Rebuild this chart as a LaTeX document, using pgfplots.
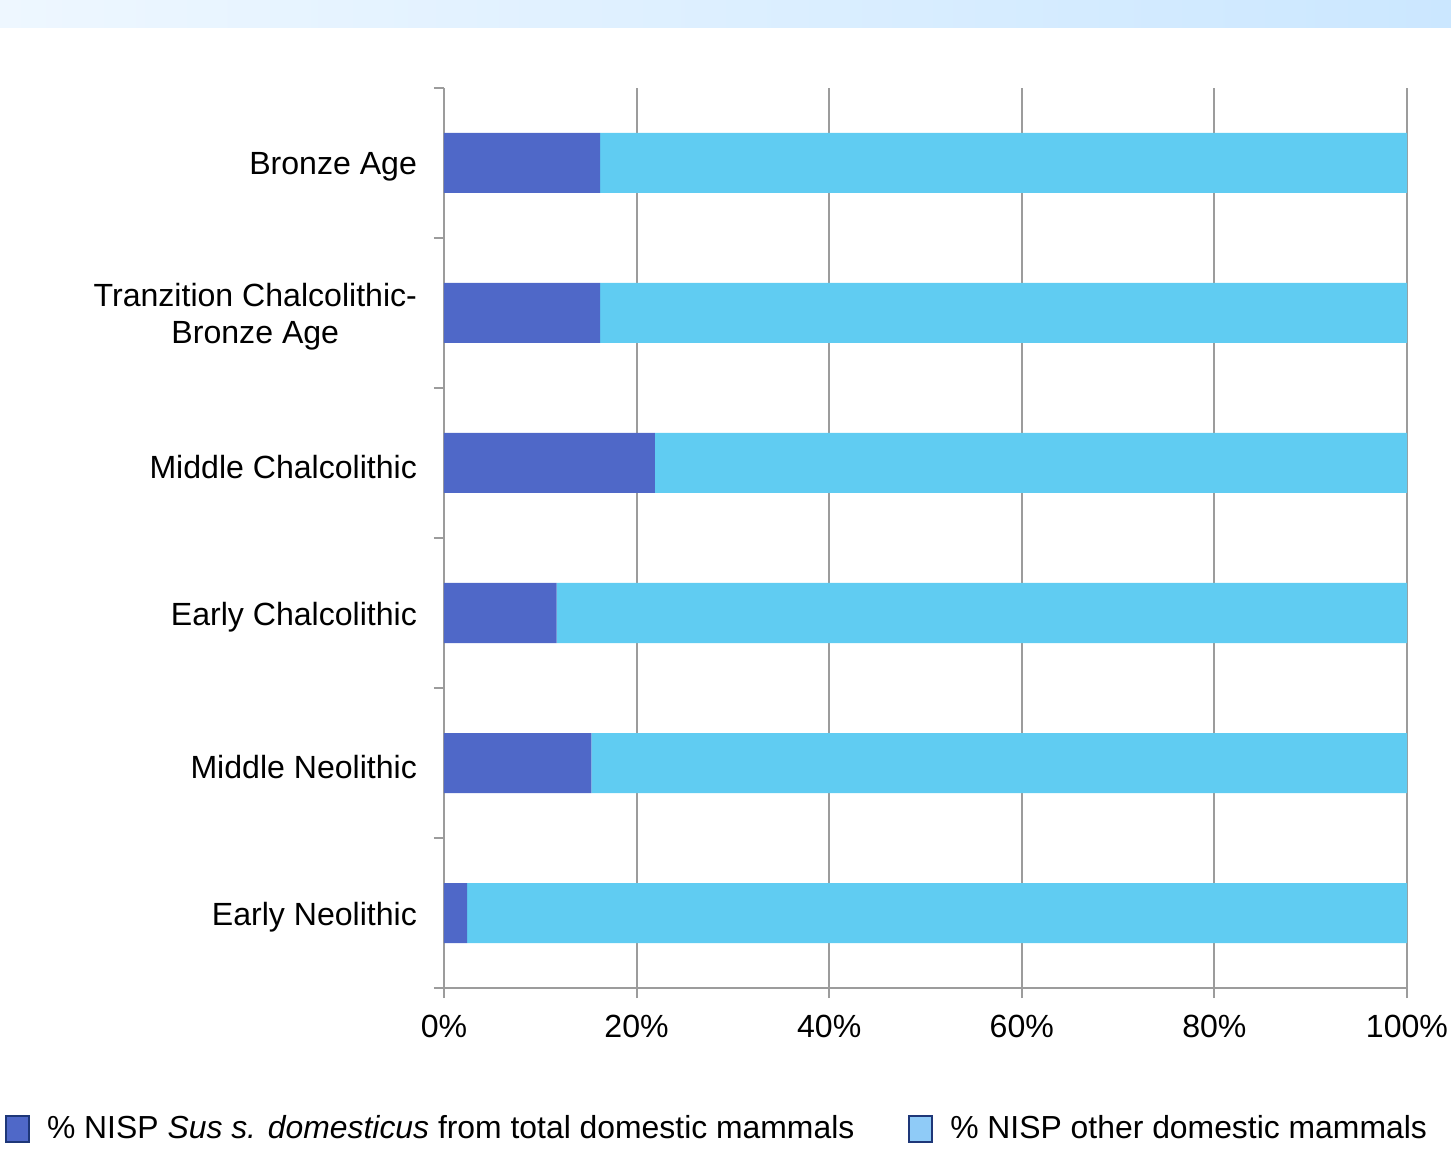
\documentclass[border=0pt]{standalone}
\usepackage{fontspec}
\setmainfont{Liberation Sans}
\usepackage{pgfplots}
\pgfplotsset{compat=1.18}
\definecolor{susc}{HTML}{4F68C8}
\definecolor{othc}{HTML}{60CCF2}
\definecolor{othleg}{HTML}{8FCBF7}
\definecolor{legborder}{HTML}{1E3778}
\definecolor{gridc}{HTML}{9C9C9C}
\definecolor{banL}{HTML}{EEF7FF}
\definecolor{banR}{HTML}{CBE7FF}
\begin{document}
\begin{tikzpicture}
\useasboundingbox (-222bp,-82bp) rectangle (503.5bp,494bp);
\fill[left color=banL, right color=banR] (-222bp,480bp) rectangle (503.5bp,494bp);
\begin{axis}[
  scale only axis,
  width=481.5bp, height=450bp,
  xbar stacked,
  bar width=30bp,
  xmin=0, xmax=100,
  ymin=-0.5, ymax=5.5,
  axis x line*=bottom, axis y line*=left,
  axis line style={draw=gridc, line width=1bp, -},
  xtick={0,20,40,60,80,100},
  xticklabels={0\%,20\%,40\%,60\%,80\%,100\%},
  ytick={0,1,2,3,4,5},
  yticklabels={Early Neolithic,Middle Neolithic,Early Chalcolithic,Middle Chalcolithic,{Tranzition Chalcolithic-\\Bronze Age},Bronze Age},
  extra y ticks={-0.5,0.5,1.5,2.5,3.5,4.5,5.5},
  extra y tick labels={},
  extra y tick style={ytick style={draw=gridc, line width=1bp}},
  tick align=outside,
  major tick length=5bp,
  xtick style={draw=gridc, line width=1bp},
  ytick style={draw=none},
  xmajorgrids,
  major grid style={draw=gridc, line width=1bp},
  tick label style={font=\fontsize{16.1}{18.5}\selectfont},
  yticklabel style={align=center, xshift=-5bp, yshift=-2bp},
  xticklabel style={yshift=-5bp},
  /pgf/number format/assume math mode=true,
  legend style={at={(0.2845,-0.1565)}, anchor=center, draw=none, fill=none,
    legend columns=2, font=\fontsize{16.0}{18.5}\selectfont,
    /tikz/every even column/.append style={column sep=25bp}},
]
\addplot[fill=susc, draw=none,
  legend image code/.code={\draw[fill=susc, draw=legborder, line width=1bp] (0bp,-6.5bp) rectangle (11.5bp,6.5bp); \path (18.5bp,0);}]
  coordinates {(2.4,0) (15.3,1) (11.7,2) (21.9,3) (16.2,4) (16.2,5)};
\addplot[fill=othc, draw=none,
  legend image code/.code={\draw[fill=othleg, draw=legborder, line width=1bp] (0bp,-6.5bp) rectangle (11.5bp,6.5bp); \path (18.5bp,0);}]
  coordinates {(97.6,0) (84.7,1) (88.3,2) (78.1,3) (83.8,4) (83.8,5)};
\legend{\% NISP \textit{Sus s. domesticus} from total domestic mammals, \% NISP other domestic mammals}
\end{axis}
\end{tikzpicture}
\end{document}
